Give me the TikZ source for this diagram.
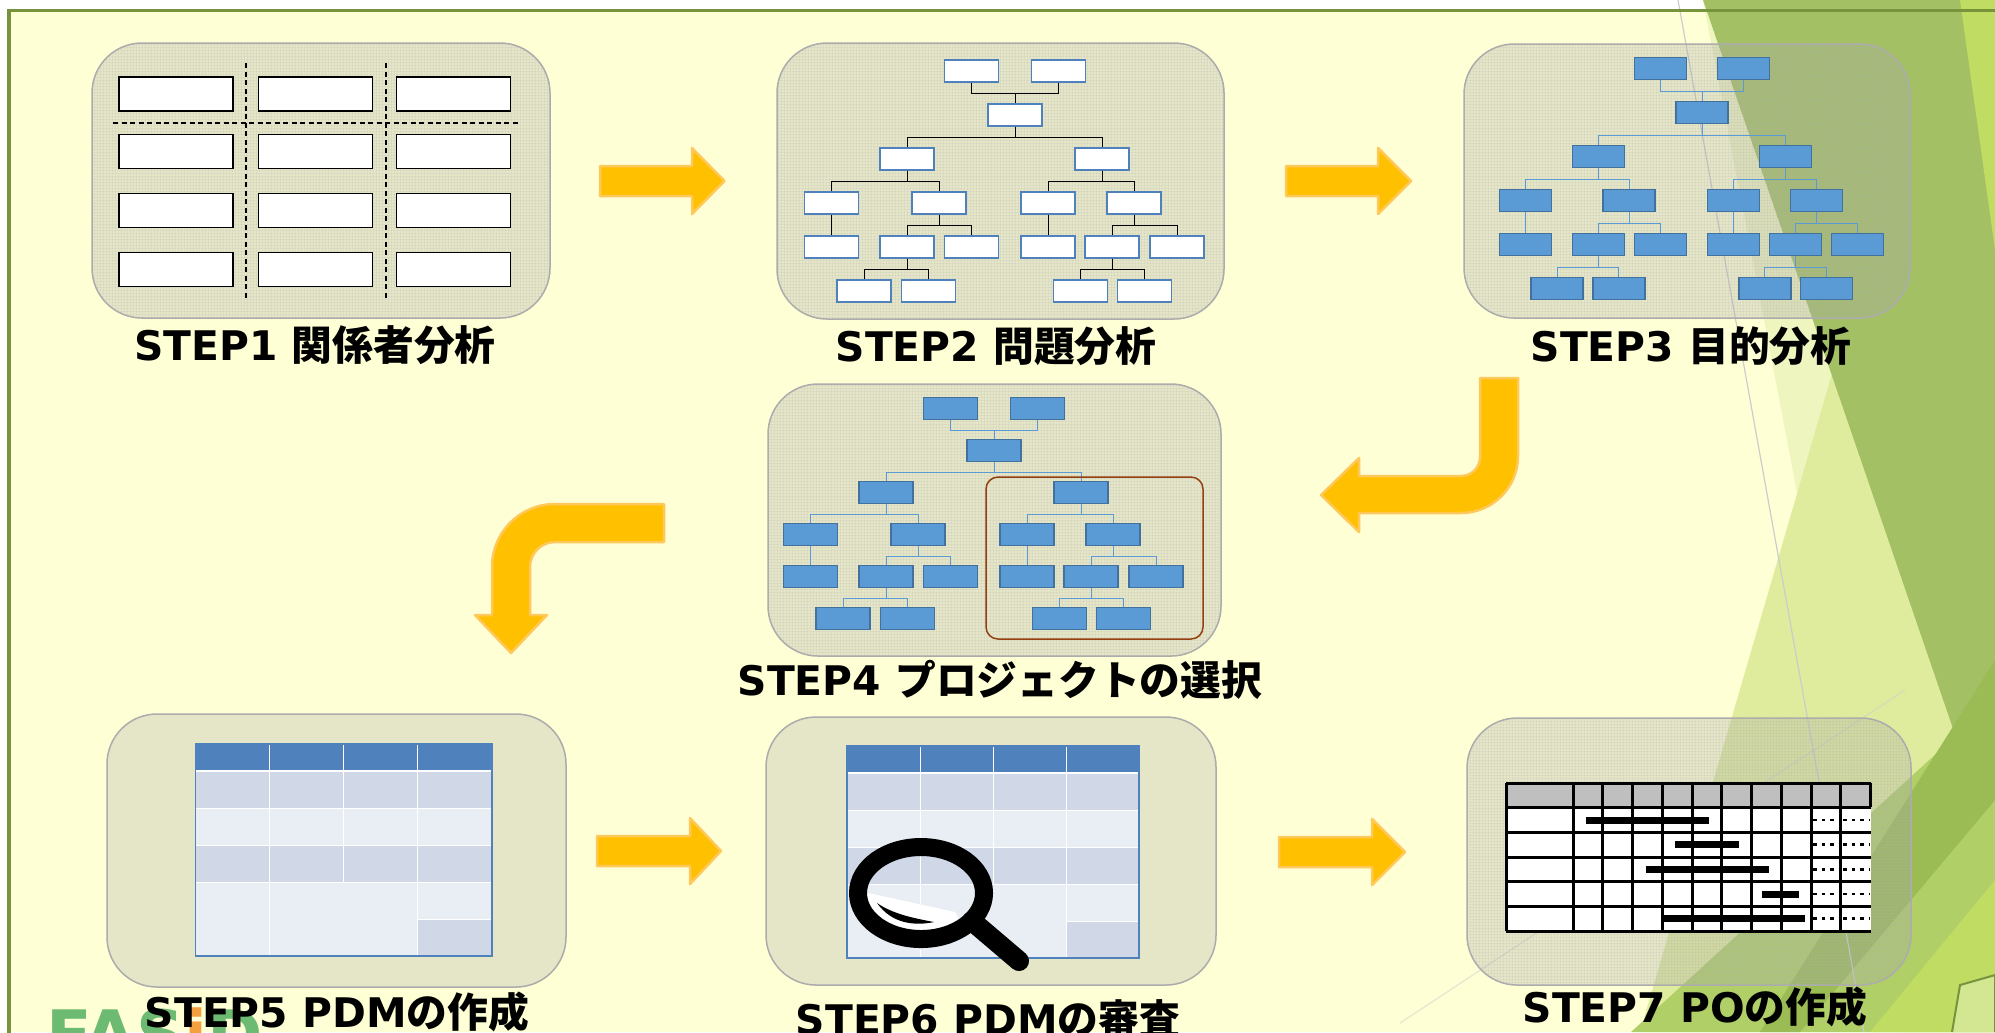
\documentclass[tikz,border=0pt]{standalone}
\usepackage{fontspec}
\setmainfont{DejaVu Sans}
\newfontfamily\jpfont{Noto Sans CJK JP}
\usetikzlibrary{patterns.meta}

\definecolor{bgcream}{HTML}{FFFFD5}
\definecolor{frameolive}{HTML}{77933C}
\definecolor{arrowgold}{HTML}{FFC000}
\definecolor{arrowrim}{HTML}{FFC85A}
\definecolor{boxblue}{HTML}{5B9BD5}
\definecolor{boxrim}{HTML}{41719C}
\definecolor{rimblue}{HTML}{4F81BD}
\definecolor{rowdark}{HTML}{D0D8E8}
\definecolor{rowlight}{HTML}{E9EDF4}
\definecolor{panelgray}{RGB}{168,168,168}
\definecolor{ganttgray}{HTML}{BFBFBF}
\definecolor{selbrown}{HTML}{943F10}
\definecolor{leafdark}{HTML}{A4C064}
\definecolor{leafdeep}{HTML}{9BBB55}
\definecolor{leafpale}{HTML}{EEF5BF}
\definecolor{leaflight}{HTML}{DFEC9E}
\definecolor{leafmid}{HTML}{B0CF67}
\definecolor{leafbright}{HTML}{C0DC62}
\definecolor{logogreen}{HTML}{6DBB73}
\definecolor{logoorange}{HTML}{F5A040}

\tikzset{
  panel/.style={draw=gray!65, line width=0.015cm, rounded corners=0.5cm,
    fill=panelgray, fill opacity=0.29},
  panelgrid/.style={rounded corners=0.5cm,
    pattern={Hatch[angle=0,distance=0.9pt,line width=0.1pt]},
    pattern color=gray!60, fill opacity=0.5},
  blockarrow/.style={fill=arrowgold, draw=arrowrim, line width=0.025cm, line join=round},
  sbox/.style={draw=black, fill=white, line width=0.015cm, minimum width=1.14cm,
    minimum height=0.34cm, inner sep=0pt},
  divider/.style={line width=0.012cm, dash pattern=on 0.05cm off 0.035cm},
  tbox2/.style={draw=rimblue, fill=white, line width=0.015cm, anchor=north,
    minimum width=0.54cm, minimum height=0.22cm, inner sep=0pt},
  tbox3/.style={draw=boxrim, fill=boxblue, line width=0.012cm, anchor=north,
    minimum width=0.52cm, minimum height=0.22cm, inner sep=0pt},
  tbox4/.style={tbox3, minimum width=0.54cm},
  tlink2/.style={black, line width=0.01cm},
  tlink3/.style={boxblue, line width=0.01cm},
  selbox/.style={draw=selbrown, line width=0.015cm, rounded corners=0.12cm},
  gline/.style={black, line width=0.03cm},
  gbar/.style={black, line width=0.07cm},
  gdots/.style={black, line width=0.025cm, dash pattern=on 0.035cm off 0.05cm},
  facetline/.style={draw=black!20, line width=0.012cm},
  steplabel/.style={font=\fontsize{11.6}{14}\selectfont\bfseries, anchor=base, inner sep=0pt},
  logo/.style={font=\fontsize{19}{22}\selectfont\bfseries, text=logogreen, inner sep=0pt}
}

% tree of boxes: prefix, root x, top y, x-scale, row pitch, box style, link style
\newcommand{\drawtree}[7]{%
  \begin{scope}[shift={(#2,#3)}]
    \pgfmathsetmacro\gap{(#5-22)/2}
    \node[#6] (#1a) at ({-43.5*#4},0) {};
    \node[#6] (#1b) at ({43.5*#4},0) {};
    \node[#6] (#1r) at (0,{#5}) {};
    \node[#6] (#1c) at ({-108*#4},{2*#5}) {};
    \node[#6] (#1d) at ({87*#4},{2*#5}) {};
    \node[#6] (#1e) at ({-183.5*#4},{3*#5}) {};
    \node[#6] (#1f) at ({-76*#4},{3*#5}) {};
    \node[#6] (#1g) at ({33*#4},{3*#5}) {};
    \node[#6] (#1h) at ({119*#4},{3*#5}) {};
    \node[#6] (#1i) at ({-183.5*#4},{4*#5}) {};
    \node[#6] (#1j) at ({-108*#4},{4*#5}) {};
    \node[#6] (#1k) at ({-43.5*#4},{4*#5}) {};
    \node[#6] (#1l) at ({33*#4},{4*#5}) {};
    \node[#6] (#1m) at ({97*#4},{4*#5}) {};
    \node[#6] (#1n) at ({162*#4},{4*#5}) {};
    \node[#6] (#1o) at ({-151*#4},{5*#5}) {};
    \node[#6] (#1p) at ({-86.5*#4},{5*#5}) {};
    \node[#6] (#1q) at ({65.5*#4},{5*#5}) {};
    \node[#6] (#1s) at ({129.5*#4},{5*#5}) {};
    \foreach \up/\down in {a/r,b/r,r/c,r/d,c/e,c/f,d/g,d/h,e/i,f/j,f/k,g/l,h/m,h/n,j/o,j/p,m/q,m/s}
      \draw[#7] (#1\up.south) -- ++(0,\gap) -| (#1\down.north);
  \end{scope}}

% PDM matrix: left x, top y, width
\newcommand{\pdmtable}[3]{%
  \begin{scope}[shift={(#1,#2)}]
    \pgfmathsetmacro\cw{#3/4}
    \fill[rowlight] (0,0) rectangle (#3,212);
    \fill[rimblue] (0,0) rectangle (#3,27);
    \fill[rowdark] (0,27) rectangle (#3,64.5);
    \fill[rowdark] (0,101.5) rectangle (#3,138.5);
    \fill[rowdark] ({3*\cw},175.5) rectangle (#3,212);
    \draw[white, line width=0.02cm] (0,27) -- (#3,27);
    \draw[white, line width=0.01cm] (0,64.5) -- (#3,64.5) (0,101.5) -- (#3,101.5)
      (0,138.5) -- (#3,138.5) ({3*\cw},175.5) -- (#3,175.5)
      (\cw,0) -- (\cw,212) ({2*\cw},0) -- ({2*\cw},138.5) ({3*\cw},0) -- ({3*\cw},212);
    \draw[rimblue, line width=0.015cm] (0,0) rectangle (#3,212);
  \end{scope}}

\begin{document}
\begin{tikzpicture}[x=0.01cm, y=-0.01cm]
\useasboundingbox (0,0) rectangle (1995,1032);
\clip (0,0) rectangle (1995,1032);

% slide background
\fill[white] (0,0) rectangle (1995,1032);
\fill[bgcream] (9,10) rectangle (1995,1032);
\fill[leafpale] (1703,0) -- (1995,851) -- (1995,1032) -- (1900,1032) -- cycle;
\fill[leaflight] (1836,360) -- (1995,851) -- (1995,1032) -- (1640,1032) -- cycle;
\fill[leafdark] (1703,0) -- (1995,0) -- (1995,851) -- cycle;
\fill[leafbright] (1960,0) -- (1995,0) -- (1995,250) -- cycle;
\fill[leafmid] (1995,700) -- (1995,1032) -- (1631,1032) -- cycle;
\fill[leafdeep] (1995,660) -- (1995,800) -- (1800,1032) -- (1760,1032) -- cycle;
\fill[leafbright] (1995,880) -- (1995,1032) -- (1870,1032) -- cycle;
\draw[frameolive, line width=0.02cm, fill=leafbright!70] (1952,1032) -- (1960,985) -- (1995,975) -- (1995,1032);
\draw[facetline] (1678,0) -- (1864,1032);
\draw[facetline, draw opacity=0.5] (1400,1023) -- (1905,690);
\draw[frameolive, line width=0.03cm] (9,1040) -- (9,10) -- (2000,10);

% logo behind the last label
\node[logo, anchor=base west] (fasid) at (46,1058) {FAS{\color{logoorange}i}D};

% panels
\foreach \xa/\ya/\xb/\yb in {92/43/550/318, 777/43/1224/319, 1464/44/1910/318,
    768/384/1221/656, 1467/718/1911/985} {
  \path[panel] (\xa,\ya) rectangle (\xb,\yb);
  \path[panelgrid] (\xa,\ya) rectangle (\xb,\yb);
}
\path[panel] (107,714) rectangle (566,987);
\path[panel] (766,717) rectangle (1216,985);

% STEP1: stakeholder table
\draw[divider] (246,63) -- (246,298);
\draw[divider] (386,63) -- (386,298);
\draw[divider] (113,123) -- (521,123);
\foreach \c/\x in {1/176,2/315.5,3/453.5}
  \foreach \r/\y in {1/94,2/151.5,3/210.5,4/269.5}
    \node[sbox] (s\c\r) at (\x,\y) {};

% STEP2 -- STEP4: trees
\drawtree{t2}{1015}{59}{1}{44}{tbox2}{tlink2}
\drawtree{t3}{1702}{57}{0.96}{44}{tbox3}{tlink3}
\drawtree{t4}{994}{397}{1}{42}{tbox4}{tlink3}
\draw[selbox] (986,477) rectangle (1203,639);

% STEP5, STEP6: matrices
\pdmtable{195.5}{744}{296.5}
\pdmtable{847}{746}{292}

% magnifier
\begin{scope}
  \clip (921,893) ellipse [x radius=54, y radius=37];
  \fill[white] (855,890) -- (955,912) -- (1000,990) -- (840,990) -- cycle;
\end{scope}
\fill (877,903) .. controls (892,924) and (915,926) .. (934,922)
  .. controls (913,918) and (893,914) .. (877,903) -- cycle;
\draw[line width=0.18cm] (921,893) ellipse [x radius=63, y radius=46];
\draw[line width=0.2cm, line cap=round] (972,921) -- (1019,961);

% STEP7: schedule
\fill[white] (1506,807) rectangle (1870.6,931);
\fill[ganttgray] (1506,783) rectangle (1870.6,807);
\foreach \k in {0,...,6}
  \draw[gline] (1506,{783+24.67*\k}) -- (1870.6,{783+24.67*\k});
\draw[gline] (1506,783) -- (1506,931);
\foreach \k in {0,...,9}
  \draw[gline] ({1573+29.76*\k},783) -- ({1573+29.76*\k},931);
\draw[gline] (1870.6,783) -- (1870.6,807);
\foreach \a/\b/\r in {1586/1709/1, 1675/1739/2, 1645.5/1768.5/3, 1762/1798.5/4, 1664/1805/5}
  \draw[gbar] (\a,{783+24.67*(\r+0.5)}) -- (\b,{783+24.67*(\r+0.5)});
\foreach \r in {1,...,5}
  \foreach \x in {1813,1843}
    \draw[gdots] (\x,{783+24.67*(\r+0.5)}) -- ({\x+27},{783+24.67*(\r+0.5)});

% arrows between the steps
\path[blockarrow] (600,166) -- (692,166) -- (692,148) -- (724.5,181) -- (692,214) -- (692,196) -- (600,196) -- cycle;
\path[blockarrow] (1286,166) -- (1378,166) -- (1378,148) -- (1411,181) -- (1378,214) -- (1378,196) -- (1286,196) -- cycle;
\path[blockarrow] (597,836) -- (690,836) -- (690,818) -- (721,851) -- (690,884) -- (690,866) -- (597,866) -- cycle;
\path[blockarrow] (1279,837) -- (1372,837) -- (1372,819) -- (1405,852) -- (1372,885) -- (1372,867) -- (1279,867) -- cycle;
\path[blockarrow] (1480,378) -- (1518,378) -- (1518,456) arc[start angle=0, end angle=90, radius=57]
  -- (1359,513) -- (1359,532) -- (1321,495) -- (1359,458) -- (1359,476) -- (1461,476)
  arc[start angle=90, end angle=0, radius=19] -- cycle;
\path[blockarrow] (664,504) -- (555,504) arc[start angle=270, end angle=180, radius=63]
  -- (492,615) -- (475,615) -- (511,653) -- (547,615) -- (530,615) -- (530,567)
  arc[start angle=180, end angle=270, radius=25] -- (664,542) -- cycle;

% step names
\node[steplabel] (lab1) at (315,360) {STEP1 {\jpfont 関係者分析}};
\node[steplabel] (lab2) at (996,361) {STEP2 {\jpfont 問題分析}};
\node[steplabel] (lab3) at (1691,361) {STEP3 {\jpfont 目的分析}};
\node[steplabel] (lab4) at (1000,695) {STEP4 {\jpfont プロジェクトの選択}};
\node[steplabel] (lab5) at (337,1027) {STEP5 PDM{\jpfont の作成}};
\node[steplabel] (lab6) at (988,1034) {STEP6 PDM{\jpfont の審査}};
\node[steplabel] (lab7) at (1695,1022) {STEP7 PO{\jpfont の作成}};
\end{tikzpicture}
\end{document}
